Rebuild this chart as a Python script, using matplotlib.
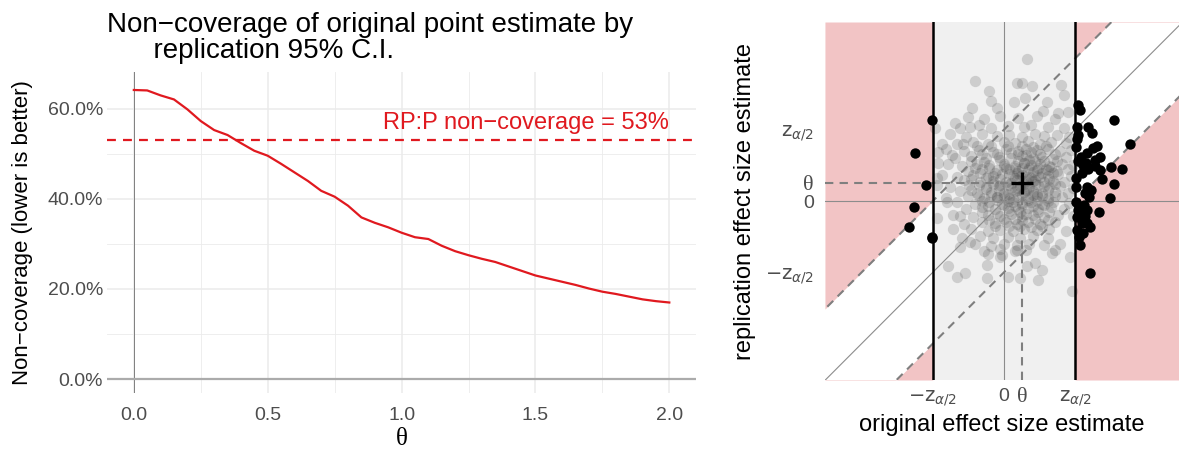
import numpy as np
import matplotlib
matplotlib.use("Agg")
import matplotlib.pyplot as plt  # noqa: E402
from matplotlib.ticker import FuncFormatter  # noqa: E402

plt.rcParams["font.family"] = ["Liberation Sans", "DejaVu Sans"]
plt.rcParams["mathtext.fontset"] = "dejavusans"

# --- left panel: non-coverage vs theta ---
theta = [0.00, 0.05, 0.10, 0.15, 0.20, 0.25, 0.30, 0.35, 0.40, 0.45,
         0.50, 0.55, 0.60, 0.65, 0.70, 0.75, 0.80, 0.85, 0.90, 0.95,
         1.00, 1.05, 1.10, 1.15, 1.20, 1.25, 1.30, 1.35, 1.40, 1.45,
         1.50, 1.55, 1.60, 1.65, 1.70, 1.75, 1.80, 1.85, 1.90, 1.95, 2.00]
noncov = [0.642, 0.641, 0.630, 0.621, 0.599, 0.573, 0.553, 0.542, 0.524, 0.507,
          0.496, 0.478, 0.459, 0.440, 0.418, 0.405, 0.385, 0.359, 0.347, 0.337,
          0.325, 0.315, 0.311, 0.296, 0.284, 0.275, 0.267, 0.260, 0.250, 0.240,
          0.230, 0.223, 0.216, 0.209, 0.201, 0.194, 0.189, 0.183, 0.177, 0.173,
          0.170]
rpp_noncov = 0.53

# --- right panel: schematic of original vs replication estimates ---
Z = 1.96          # z_{alpha/2}
TH = 0.5          # true effect theta
# significant originals (black)
sig_x = [-1.99, -2.44, -2.15, -2.48, -2.61, -1.99, -1.97,
         2.05, 3.04, 2.02, 2.32, 2.42, 2.05, 1.98, 2.57, 3.47, 2.30,
         2.64, 2.51, 2.19, 2.32, 2.64, 2.14, 2.94, 3.24, 3.03, 2.69,
         2.92, 1.97, 1.98, 2.30, 2.23, 1.98, 2.05, 2.28, 2.63, 2.14,
         2.37, 2.19, 2.06, 2.09, 2.37, 2.00, 2.10, 2.25, 2.40, 2.20,
         2.00, 2.30, 2.00, 2.45, 2.50, 2.12, 2.35, 2.03, 2.22]
sig_y = [2.24, 1.33, 0.44, -0.17, -0.72, -0.98, -1.03,
         2.64, 2.23, 2.04, 2.04, 1.86, 1.81, 1.49, 1.52, 1.58, 1.31,
         1.22, 1.13, 0.99, 0.87, 0.85, 0.76, 0.93, 0.87, 0.47, 0.60,
         0.07, 0.62, 0.39, 0.39, 0.21, -0.02, -0.25, -0.25, -0.31, -0.61,
         -0.71, -0.89, -0.98, -1.21, -1.99, 1.70, 2.50, 1.05, 0.30, -0.10,
         -0.45, -0.60, -0.80, 1.45, 0.95, 1.20, 0.10, 1.10, -0.40]
# non-significant originals (gray cloud)
nonsig_pts = [
    (-1.0, 2.32), (-0.55, 2.26), (-0.1, 2.35), (0.4, 2.28), (0.9, 2.33), (1.4, 2.25),
    (-1.2, 2.02), (-0.7, 2.08), (-0.35, 2.0), (0.1, 2.07), (0.55, 2.03), (0.75, 2.1),
    (1.2, 2.04), (1.65, 2.0),
    (-1.5, 1.83), (-1.05, 1.77), (-0.6, 1.84), (-0.2, 1.79), (0.15, 1.82), (0.5, 1.76),
    (0.85, 1.85), (1.1, 1.78), (1.45, 1.81), (1.8, 1.76),
    (-1.3, 1.58), (-0.85, 1.63), (-0.45, 1.57), (0.0, 1.62), (0.3, 1.59), (0.65, 1.64),
    (1.0, 1.56), (1.3, 1.61), (1.7, 1.6),
    (-1.6, 1.42), (-1.1, 1.37), (-0.7, 1.41), (-0.3, 1.36), (0.05, 1.43), (0.4, 1.38),
    (0.6, 1.44), (0.9, 1.39), (1.2, 1.42), (1.55, 1.37), (1.85, 1.41),
    (-1.35, 1.18), (-0.9, 1.23), (-0.5, 1.17), (-0.15, 1.22), (0.2, 1.19), (0.5, 1.24),
    (0.8, 1.18), (1.05, 1.21), (1.35, 1.16), (1.7, 1.22),
    (-1.55, 1.02), (-1.15, 0.97), (-0.75, 1.03), (-0.4, 0.98), (0.0, 1.01), (0.3, 0.96),
    (0.55, 1.04), (0.75, 0.99), (1.0, 1.02), (1.25, 0.97), (1.6, 1.03), (1.9, 0.98),
    (-1.0, 0.83), (-0.6, 0.88), (-0.2, 0.84), (0.15, 0.87), (0.4, 0.82), (0.65, 0.86),
    (0.9, 0.84), (1.15, 0.88), (1.45, 0.83), (1.75, 0.87),
    (-1.7, 0.71), (-1.3, 0.67), (-0.85, 0.72), (-0.45, 0.68), (-0.05, 0.73), (0.25, 0.69),
    (0.5, 0.71), (0.7, 0.66), (0.95, 0.72), (1.2, 0.68), (1.5, 0.73), (1.85, 0.69),
    (-1.1, 0.57), (-0.65, 0.52), (-0.3, 0.56), (0.05, 0.53), (0.35, 0.58), (0.6, 0.54),
    (0.85, 0.57), (1.1, 0.52), (1.35, 0.56), (1.65, 0.53),
    (-1.5, 0.38), (-0.95, 0.43), (-0.5, 0.39), (-0.15, 0.42), (0.2, 0.37), (0.45, 0.41),
    (0.7, 0.38), (0.95, 0.43), (1.25, 0.39), (1.55, 0.42), (1.9, 0.37),
    (-1.2, 0.27), (-0.75, 0.22), (-0.35, 0.26), (0.0, 0.23), (0.3, 0.28), (0.55, 0.24),
    (0.8, 0.27), (1.05, 0.22), (1.4, 0.26), (1.75, 0.23),
    (-1.6, 0.08), (-1.0, 0.13), (-0.55, 0.09), (-0.2, 0.12), (0.15, 0.07), (0.4, 0.11),
    (0.65, 0.08), (0.9, 0.13), (1.2, 0.09), (1.6, 0.12),
    (-1.3, -0.03), (-0.8, -0.08), (-0.4, -0.04), (-0.05, -0.07), (0.25, -0.02), (0.5, -0.06),
    (0.75, -0.03), (1.05, -0.08), (1.35, -0.04), (1.8, -0.06),
    (-1.05, -0.22), (-0.6, -0.17), (-0.25, -0.21), (0.1, -0.18), (0.4, -0.23), (0.65, -0.19),
    (0.95, -0.22), (1.3, -0.17), (1.65, -0.21),
    (-1.4, -0.38), (-0.85, -0.43), (-0.45, -0.39), (-0.1, -0.42), (0.2, -0.37), (0.5, -0.41),
    (0.8, -0.38), (1.1, -0.43), (1.5, -0.39), (1.9, -0.42),
    (-1.1, -0.62), (-0.6, -0.57), (-0.25, -0.61), (0.05, -0.58), (0.35, -0.63), (0.65, -0.59),
    (1.0, -0.62), (1.4, -0.57),
    (-0.9, -0.78), (-0.45, -0.83), (-0.1, -0.79), (0.25, -0.82), (0.55, -0.77), (0.9, -0.81),
    (1.25, -0.78), (1.7, -0.83),
    (-1.15, -1.02), (-0.65, -0.97), (-0.3, -1.03), (0.1, -0.98), (0.45, -1.01), (0.8, -0.96),
    (1.2, -1.02),
    (-0.8, -1.18), (-0.35, -1.23), (0.0, -1.19), (0.35, -1.22), (0.7, -1.17), (1.1, -1.21),
    (1.55, -1.18),
    (-0.55, -1.37), (-0.1, -1.33), (0.3, -1.38), (0.6, -1.34), (1.4, -1.36),
    # denser middle
    (0.2, 0.5), (0.45, 0.7), (0.6, 0.3), (0.8, 0.55), (0.3, 0.9), (0.55, 1.05), (0.1, 0.2),
    (0.7, 0.9), (0.9, 0.2), (0.35, 0.35), (0.15, 0.75), (0.65, 0.6), (1.0, 0.65), (0.5, -0.1),
    (0.25, 0.05), (-0.1, 0.45), (0.85, 1.1), (0.4, 1.3), (1.1, 0.4), (0.0, 0.95), (0.6, -0.35),
    (-0.2, 0.1), (1.2, 0.85), (0.3, -0.5), (0.75, 1.35), (-0.3, 0.7),
    (-0.75, 1.5), (-0.35, 1.5), (0.1, 1.5), (0.5, 1.52), (0.8, 1.48), (1.15, 1.5),
    (-0.6, 1.3), (-0.2, 1.28), (0.2, 1.32), (0.6, 1.27), (1.0, 1.3), (1.4, 1.29),
    (-0.9, 1.1), (-0.55, 1.08), (-0.1, 1.12), (0.4, 1.1), (0.7, 1.13), (1.1, 1.09), (1.45, 1.1),
    (-0.8, 0.92), (-0.4, 0.9), (0.05, 0.9), (0.5, 0.92), (0.95, 0.91), (1.3, 0.93),
    (-0.65, 0.78), (-0.25, 0.78), (0.35, 0.78), (0.8, 0.79), (1.05, 0.77), (1.35, 0.78),
    (-0.9, 0.6), (-0.5, 0.62), (-0.1, 0.6), (0.3, 0.63), (0.75, 0.62), (1.25, 0.6),
    (-0.7, 0.45), (-0.3, 0.47), (0.1, 0.45), (0.55, 0.46), (0.85, 0.46), (1.4, 0.47),
    (-0.9, 0.3), (-0.5, 0.32), (-0.15, 0.3), (0.4, 0.31), (0.65, 0.33), (1.2, 0.31),
    (-0.7, 0.15), (-0.35, 0.17), (0.0, 0.15), (0.5, 0.17), (0.8, 0.16), (1.05, 0.15), (1.4, 0.14),
    (-0.6, 0.0), (-0.2, 0.02), (0.1, 0.0), (0.65, 0.02), (0.9, -0.01), (1.2, 0.01),
    (-0.45, -0.15), (0.0, -0.12), (0.3, -0.14), (0.8, -0.13), (1.1, -0.12),
    (-0.6, -0.3), (-0.2, -0.32), (0.15, -0.28), (0.45, -0.31), (0.95, -0.3), (1.25, -0.3),
    (-0.4, -0.52), (0.0, -0.5), (0.5, -0.52), (0.85, -0.5), (1.2, -0.51),
    (-0.25, -0.7), (0.15, -0.7), (0.45, -0.68), (0.75, -0.71), (1.05, -0.7),
    # stragglers
    (0.63, 3.89), (-0.80, 3.30), (0.35, 3.25), (0.49, 3.23), (0.78, 3.16), (-0.40, 3.03),
    (1.57, 3.19), (1.66, 2.91), (-0.89, 2.56), (-0.20, 2.56), (-0.36, 2.76), (0.28, 2.71),
    (0.58, 2.82), (1.18, 2.73), (1.08, 2.48), (1.50, 2.41), (1.77, 2.45), (-1.35, 2.15),
    (-0.94, 2.04), (-1.90, 2.0), (-1.72, 1.58), (-1.81, 1.35), (-1.44, 1.26), (-1.81, 1.04),
    (-1.85, 0.62), (-1.12, 1.58), (-1.85, 0.44), (-1.85, -0.48), (-1.58, -0.02),
    (-1.21, -0.40), (-1.41, -0.77), (-0.94, -1.12), (-1.21, -1.26), (-1.53, -1.80),
    (-1.29, -2.08), (-1.07, -1.99), (-0.48, -1.76), (0.12, -2.08), (0.44, -2.12),
    (0.94, -2.17), (1.04, -1.90), (0.85, -1.71), (1.82, -1.53), (1.86, -2.47),
    (1.31, -1.44), (-0.43, -1.46), (-0.06, -1.48), (-0.11, -1.53), (0.63, -1.80),
    (-0.48, -2.12), (0.35, -1.35),
]

# axis window of the schematic
X_LIM = (-4.93, 4.82)
Y_LIM = (-4.92, 4.92)

RED = "#e0191f"
PINK = "#f2c4c5"
SERIF = ["Liberation Serif", "DejaVu Serif"]

fig = plt.figure(figsize=(11.79, 4.51), dpi=100)

# ---------------- left panel ----------------
ax = fig.add_axes([0.0908, 0.1286, 0.4996, 0.7118])
for s in ax.spines.values():
    s.set_visible(False)
ax.set_xlim(-0.1, 2.1)
ax.set_ylim(-0.031, 0.682)
ax.set_xticks([0.0, 0.5, 1.0, 1.5, 2.0])
ax.set_yticks([0.0, 0.2, 0.4, 0.6])
ax.set_xticks([0.25, 0.75, 1.25, 1.75], minor=True)
ax.set_yticks([0.1, 0.3, 0.5], minor=True)
ax.yaxis.set_major_formatter(FuncFormatter(lambda v, _: f"{v * 100:.1f}%"))
ax.grid(True, which="major", color="#ebebeb", lw=1.1)
ax.grid(True, which="minor", color="#ebebeb", lw=0.6)
ax.tick_params(which="both", length=0, labelsize=14, labelcolor="#4d4d4d")
ax.tick_params(axis="x", pad=10)
ax.tick_params(axis="y", pad=3)
ax.set_axisbelow(True)

ax.axvline(0, color="#7f7f7f", lw=0.7, zorder=2)
ax.axhline(0, color="#ababab", lw=1.6, zorder=2)
ax.axhline(rpp_noncov, color=RED, lw=1.6, dashes=(4, 3.2), zorder=3)
ax.plot(theta, noncov, color=RED, lw=1.6, zorder=4)
ax.text(2.0, 0.569, f"RP:P non\u2212coverage = {rpp_noncov * 100:.0f}%",
        color=RED, fontsize=17, ha="right", va="center")

ax.set_xlabel("θ", fontsize=18, family=SERIF, labelpad=3)
ax.set_ylabel("Non\u2212coverage (lower is better)", fontsize=16, labelpad=10)
ax.set_title("Non\u2212coverage of original point estimate by\n"
             "      replication 95% C.I.", loc="left", fontsize=20,
             linespacing=0.98, pad=10)

# ---------------- right panel ----------------
bx = fig.add_axes([0.6997, 0.1574, 0.3003, 0.7938])
for s in bx.spines.values():
    s.set_visible(False)
bx.set_xlim(*X_LIM)
bx.set_ylim(*Y_LIM)

# shaded regions: gray = non-significant original, pink = CI misses original
bx.axvspan(-Z, Z, color="#f0f0f0", lw=0, zorder=0)
for lo, hi in [(X_LIM[0], -Z), (Z, X_LIM[1])]:
    xs = np.array([lo, hi])
    bx.fill_between(xs, xs + Z, Y_LIM[1], color=PINK, lw=0, zorder=0)
    bx.fill_between(xs, Y_LIM[0], xs - Z, color=PINK, lw=0, zorder=0)

gx, gy = np.array(nonsig_pts).T
bx.scatter(gx, gy, s=66, color="#444444", alpha=0.2, lw=0, zorder=1)

xx = np.array([-6, 6])
bx.axhline(0, color="#8c8c8c", lw=0.8, zorder=2)
bx.axvline(0, color="#8c8c8c", lw=0.8, zorder=2)
bx.plot(xx, xx, color="#8c8c8c", lw=0.8, zorder=2)
bx.plot(xx, xx + Z, color="#7f7f7f", lw=1.5, dashes=(4, 3), zorder=2)
bx.plot(xx, xx - Z, color="#7f7f7f", lw=1.5, dashes=(4, 3), zorder=2)
bx.plot([X_LIM[0], TH], [TH, TH], color="#7f7f7f", lw=1.5, dashes=(4, 3), zorder=2)
bx.plot([TH, TH], [Y_LIM[0], TH], color="#7f7f7f", lw=1.5, dashes=(4, 3), zorder=2)
bx.axvline(-Z, color="black", lw=1.8, zorder=3)
bx.axvline(Z, color="black", lw=1.8, zorder=3)

bx.scatter(sig_x, sig_y, s=56, color="black", lw=0, zorder=4)
bx.plot([TH], [TH], marker="+", ms=16, mew=2.4, color="black", zorder=5)

zlab = r"$\mathsf{z}_{\alpha/2}$"
mzlab = r"$-\mathsf{z}_{\alpha/2}$"
bx.set_xticks([-Z, 0, TH, Z])
bx.set_xticklabels([mzlab, "0", "θ", zlab])
bx.set_yticks([-Z, 0, TH, Z])
bx.set_yticklabels([mzlab, "0", "θ", zlab])
bx.tick_params(length=0, labelsize=14, labelcolor="#4d4d4d")
bx.tick_params(axis="x", pad=6)
bx.tick_params(axis="y", pad=8)
for lab in bx.get_xticklabels() + bx.get_yticklabels():
    if lab.get_text() == "θ":
        lab.set_family(SERIF)
        lab.set_fontsize(16)
bx.set_xlabel("original effect size estimate", fontsize=17, labelpad=4)
bx.set_ylabel("replication effect size estimate", fontsize=17, labelpad=6)

fig.savefig("out.png", dpi=100)
